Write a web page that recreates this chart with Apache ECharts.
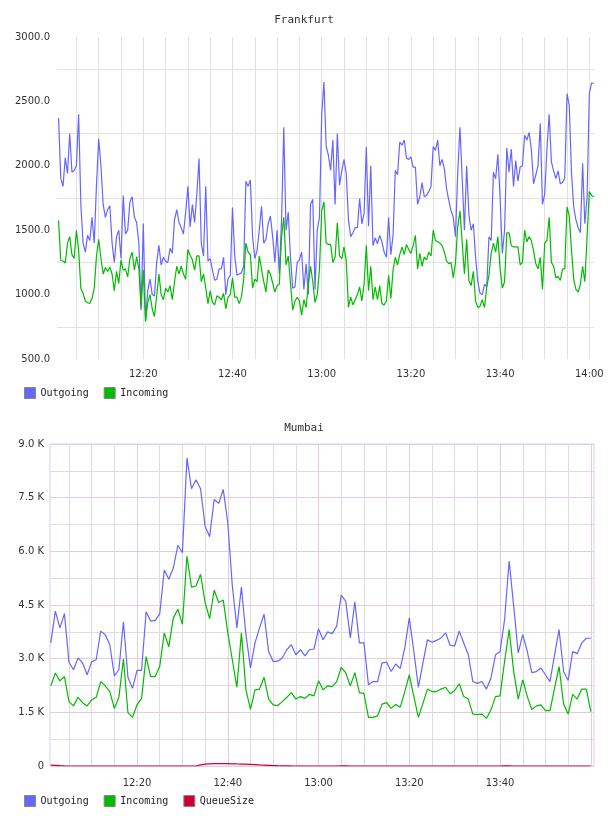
<!DOCTYPE html>
<html>
<head>
<meta charset="utf-8">
<title>Frankfurt / Mumbai</title>
<script src="https://cdn.jsdelivr.net/npm/echarts@6/dist/echarts.min.js"></script>
<style>
  html, body { margin: 0; padding: 0; background: #fff; }
  #chart { width: 608px; height: 816px; }
</style>
</head>
<body>
<div id="chart"></div>
<script>
// sample times are minutes after 12:00
const frankfurtStart = 1;
const frankfurtStep = 0.5;
const mumbaiStart = 1;
const mumbaiStep = 1;

const frankfurtOutgoing = [
    2370, 1900, 1840, 2064, 1940, 2250, 1950, 1965, 2000, 2400,
    1700, 1396, 1330, 1460, 1420, 1600, 1400, 1850, 2210, 2000,
    1700, 1600, 1660, 1690, 1400, 1250, 1450, 1500, 1280, 1770,
    1470, 1500, 1720, 1760, 1600, 1560, 1400, 879, 1551, 801,
    1030, 1120, 1000, 990, 1250, 1383, 1230, 1290, 1260, 1250,
    1360, 1320, 1580, 1660, 1560, 1520, 1470, 1640, 1840,
    1526, 1700, 1560, 1780, 2056, 1400, 1300, 1841, 1260, 1280,
    1189, 1112, 1120, 1200, 1200, 1290, 1000, 1120, 1150, 1676,
    1300, 1150, 1160, 1170, 1220, 1880, 1840, 1890, 1450, 1280,
    1340, 1500, 1686, 1400, 1430, 1550, 1610, 1450, 1250, 1500,
    1160, 1580, 2300, 1500, 1640, 1290, 1050, 1060, 1250, 1270,
    1330, 1040, 1240, 1000, 1700, 1740, 1040, 1500, 1600, 2400,
    2650, 2150,
    2082, 1965, 2200, 1700, 2250, 1850, 1960, 2050, 1940, 1580,
    1450, 1480, 1520, 1520, 1746, 1550, 1630, 2146, 1530, 2000,
    1380, 1440, 1395, 1460, 1410, 1330, 1290, 1600, 1310, 1460,
    1965, 1930, 2185, 2160, 2200, 2060, 2050, 2070, 1990, 1990,
    1700, 1760, 1870, 1760, 1770, 1800, 1840, 2150, 2120, 2200,
    2000, 2050, 1980, 1820, 1730, 1650, 1600, 1450, 1950, 2300,
    1900, 1500, 2000, 1620, 1500, 1550, 1290, 1100, 1010, 1000,
    1080, 1060, 1448, 1420, 1950, 1900, 2090, 1750, 1320, 1500,
    2140, 1950, 2130, 1840, 2040, 1880, 1990, 2000, 2237, 2200,
    2260, 2130, 1860, 1930, 2000, 2330, 1700, 1780, 2130, 2400,
    2030, 1960, 1900, 1960, 1860, 1870, 1910, 2560, 2470, 1950,
    1680, 1580, 1520, 1480, 2020, 1550, 1750, 2560, 2643, 2640
];
const frankfurtIncoming = [
    1575, 1265, 1262, 1245, 1400, 1450, 1310, 1280, 1500, 1345,
    1050, 1008, 950, 937, 931, 969, 1050, 1300, 1430, 1280,
    1160, 1210, 1180, 1215, 1160, 1030, 1180, 1086, 1270, 1189,
    1200, 1137, 1280, 1330, 1189, 1293, 1200, 900, 1190, 790,
    940, 1000, 890, 830, 990, 1160, 1000, 960, 1050, 1020,
    1070, 960, 1100, 1220, 1160, 1220, 1160, 1120, 1350,
    1306, 1270, 1190, 1300, 1300, 1100, 1160, 1050, 930, 1030,
    940, 920, 990, 980, 960, 1010, 890, 980, 1000, 1130,
    980, 980, 930, 980, 1120, 1400, 1330, 1310, 1050, 1120,
    1100, 1300, 1200, 1100, 1020, 1190, 1160, 1090, 1020, 1070,
    1080, 1450, 1600, 1230, 1300, 1090, 880, 950, 980, 950,
    840, 960, 900, 1080, 1220, 1100, 940, 1000, 1200, 1650,
    1720, 1400,
    1390, 1390, 1250, 1290, 1556, 1300, 1280, 1370, 1260, 900,
    980, 920, 960, 1000, 1060, 950, 1080, 1383, 1030, 1220,
    960, 1060, 960, 1070, 930, 920, 950, 1150, 970, 1190,
    1290, 1230, 1310, 1370, 1310, 1390, 1350, 1320, 1380, 1460,
    1200, 1320, 1220, 1290, 1270, 1330, 1300, 1500, 1420, 1410,
    1400, 1380, 1330, 1260, 1240, 1250, 1130, 1250, 1530, 1650,
    1400, 1160, 1430, 1110, 1070, 1180, 950, 900, 910, 960,
    900, 1060, 1150, 1320, 1400, 1330, 1450, 1200, 1050, 1100,
    1480, 1480, 1380, 1370, 1370, 1370, 1230, 1250, 1500, 1410,
    1450, 1420, 1340, 1240, 1200, 1290, 1040, 1400, 1420, 1600,
    1250, 1220, 1130, 1140, 1110, 1200, 1200, 1680, 1610, 1350,
    1120, 1040, 1020, 1080, 1220, 1100, 1450, 1800, 1770, 1760
];

const mumbaiOutgoing = [
    3440, 4330, 3860, 4260, 2900, 2690, 3020, 2880, 2550, 2910,
    2970, 3770, 3670, 3390, 2520, 2690, 4030, 2480, 2170, 2670,
    2670, 4310, 4050, 4070, 4250, 5480, 5220, 5540, 6170, 5960,
    8610, 7750, 8000, 7750, 6700, 6410, 7450, 7340, 7730, 6800,
    5030, 3860, 5000, 3670, 2740, 3440, 3860, 4240, 3200, 2920,
    2930, 3020, 3250, 3390, 3110, 3250, 3080, 3250, 3270, 3830,
    3530, 3750, 3700, 3910, 4780, 4600, 3580, 4590, 3440, 3440,
    2270, 2360, 2360, 2880, 2900, 2640, 2850, 2720, 3300, 4140,
    3200, 2200, 2880, 3530, 3460, 3510, 3580, 3720, 3370, 3360,
    3770, 3440, 3110, 2360, 2310, 2360, 2150, 2460, 3110, 3200,
    4100, 5730, 4470, 3160, 3670, 3200, 2610, 2640, 2740, 2550,
    2360, 3100, 3810, 2640, 2390, 3200, 3140, 3440, 3570, 3570
];
const mumbaiIncoming = [
    2240, 2600, 2380, 2500, 1800, 1680, 1920, 1770, 1680, 1850,
    1920, 2360, 2240, 2080, 1610, 1920, 2990, 1490, 1360, 1710,
    1890, 3060, 2500, 2500, 2780, 3720, 3330, 4140, 4380, 3960,
    5870, 5000, 5030, 5360, 4570, 4120, 4920, 4570, 4640, 3720,
    2970, 2200, 3720, 2130, 1580, 2130, 2150, 2480, 1870, 1710,
    1690, 1800, 1920, 2050, 1870, 1940, 1890, 2000, 1960, 2380,
    2130, 2240, 2220, 2360, 2760, 2600, 2240, 2610, 2050, 2030,
    1360, 1360, 1400, 1730, 1770, 1610, 1720, 1640, 2080, 2550,
    1940, 1360, 1750, 2150, 2080, 2080, 2150, 2200, 2020, 2110,
    2300, 1940, 1870, 1450, 1440, 1450, 1330, 1570, 1940, 1960,
    2920, 3810, 2640, 1870, 2410, 1940, 1580, 1680, 1710, 1550,
    1550, 2170, 2780, 1730, 1450, 2000, 1870, 2150, 2150, 1520
];
const mumbaiQueueSize = [
    25, 18, 10, 4, 0, 0, 0, 0, 0, 0,
    0, 0, 0, 0, 0, 0, 0, 0, 0, 0,
    0, 0, 0, 0, 0, 0, 0, 0, 0, 0,
    0, 0, 0, 30, 50, 60, 66, 68, 66, 65,
    62, 58, 55, 50, 45, 38, 30, 24, 18, 12,
    8, 5, 3, 1, 0, 0, 0, 0, 0, 0,
    0, 0, 0, 0, 3, 4, 0, 0, 0, 0,
    0, 0, 0, 0, 0, 0, 0, 0, 0, 0,
    0, 0, 0, 0, 0, 0, 0, 0, 0, 0,
    0, 0, 0, 0, 0, 0, 0, 0, 0, 0,
    3, 4, 0, 0, 0, 0, 0, 0, 0, 0,
    0, 0, 0, 0, 0, 0, 0, 0, 0, 0
];

const blue = '#6666ff';
const green = '#00bb00';
const red = '#cc0033';
const gridGrey = '#e2e2e2';
const lilac = '#e4cbe4';
const mono = 'DejaVu Sans Mono';
const sans = 'DejaVu Sans';

function toPairs(values, start, step) {
    return values.map((v, i) => [start + i * step, v]);
}

function clock(m) {
    const h = 12 + Math.floor(m / 60);
    const mm = Math.round(m % 60);
    return h + ':' + (mm < 10 ? '0' : '') + mm;
}

function lineSeries(name, values, start, step, color, xi, yi) {
    return {
        name: name,
        type: 'line',
        xAxisIndex: xi,
        yAxisIndex: yi,
        data: toPairs(values, start, step),
        showSymbol: false,
        color: color,
        lineStyle: { width: 1.2, color: color },
        animation: false
    };
}

const chart = echarts.init(document.getElementById('chart'));

chart.setOption({
    animation: false,
    title: [
        { text: 'Frankfurt', left: 'center', top: 15, padding: 0,
          textStyle: { fontFamily: mono, fontSize: 11, fontWeight: 'normal', color: '#333' } },
        { text: 'Mumbai', left: 'center', top: 423, padding: 0,
          textStyle: { fontFamily: mono, fontSize: 11, fontWeight: 'normal', color: '#333' } }
    ],
    legend: [
        { data: ['Outgoing', 'Incoming'], left: 24, top: 387, padding: 0,
          icon: 'rect', itemWidth: 11, itemHeight: 11, itemGap: 15,
          itemStyle: { borderColor: '#888', borderWidth: 1 },
          textStyle: { fontFamily: mono, fontSize: 10, color: '#222' } },
        { data: ['Outgoing', 'Incoming', 'QueueSize'], left: 24, top: 795, padding: 0,
          icon: 'rect', itemWidth: 11, itemHeight: 11, itemGap: 15,
          itemStyle: { borderColor: '#888', borderWidth: 1 },
          textStyle: { fontFamily: mono, fontSize: 10, color: '#222' } }
    ],
    grid: [
        { left: 57, top: 37, width: 537, height: 322, outerBoundsMode: 'none' },
        { left: 50, top: 444, width: 544, height: 322, outerBoundsMode: 'none',
          show: true, borderColor: lilac, borderWidth: 1 }
    ],
    xAxis: [
        {
            type: 'value', gridIndex: 0, min: 0.65, max: 121.05,
            minInterval: 5, maxInterval: 5,
            axisLine: { show: false }, axisTick: { show: false },
            axisLabel: {
                margin: 10, fontFamily: sans, fontSize: 10, color: '#333',
                formatter: (v) => (Math.abs(v % 20) < 1e-6 ? clock(v) : '')
            },
            splitLine: { show: true, showMinLine: false, showMaxLine: false,
                         lineStyle: { color: gridGrey, width: 1 } }
        },
        {
            type: 'value', gridIndex: 1, min: 0.82, max: 120.7,
            minInterval: 5, maxInterval: 5,
            axisLine: { show: false }, axisTick: { show: false },
            axisLabel: {
                margin: 12, fontFamily: sans, fontSize: 10, color: '#333',
                formatter: (v) => (Math.abs(v % 20) < 1e-6 && v < 119 ? clock(v) : '')
            },
            splitLine: { show: true, showMinLine: false, showMaxLine: false,
                         lineStyle: { color: '#dddddd', width: 1 } }
        },
        {
            // purple 20-minute lines over the grey 5-minute ones
            type: 'value', gridIndex: 1, min: 0.82, max: 120.7, z: 1,
            minInterval: 20, maxInterval: 20, position: 'top',
            axisLine: { show: false }, axisTick: { show: false }, axisLabel: { show: false },
            splitLine: { show: true, showMinLine: false, showMaxLine: false,
                         lineStyle: { color: lilac, width: 1 } }
        }
    ],
    yAxis: [
        {
            type: 'value', gridIndex: 0, min: 500, max: 3000, interval: 500,
            axisLine: { show: false }, axisTick: { show: false },
            axisLabel: { margin: 7, fontFamily: sans, fontSize: 10, color: '#333',
                         formatter: (v) => v.toFixed(1) },
            splitLine: { show: false },
            minorTick: { show: false, splitNumber: 2 },
            minorSplitLine: { show: true, lineStyle: { color: gridGrey, width: 1 } }
        },
        {
            type: 'value', gridIndex: 1, min: 0, max: 9000, interval: 1500,
            axisLine: { show: false }, axisTick: { show: false },
            axisLabel: { margin: 6, fontFamily: sans, fontSize: 10, color: '#333',
                         formatter: (v) => (v === 0 ? '0' : (v / 1000).toFixed(1) + ' K') },
            splitLine: { show: true, lineStyle: { color: lilac, width: 1 } },
            minorTick: { show: false, splitNumber: 2 },
            minorSplitLine: { show: true, lineStyle: { color: '#dddddd', width: 1 } }
        }
    ],
    series: [
        lineSeries('Outgoing', frankfurtOutgoing, frankfurtStart, frankfurtStep, blue, 0, 0),
        lineSeries('Incoming', frankfurtIncoming, frankfurtStart, frankfurtStep, green, 0, 0),
        lineSeries('Outgoing', mumbaiOutgoing, mumbaiStart, mumbaiStep, blue, 1, 1),
        lineSeries('Incoming', mumbaiIncoming, mumbaiStart, mumbaiStep, green, 1, 1),
        lineSeries('QueueSize', mumbaiQueueSize, mumbaiStart, mumbaiStep, red, 1, 1)
    ]
});
</script>
</body>
</html>
